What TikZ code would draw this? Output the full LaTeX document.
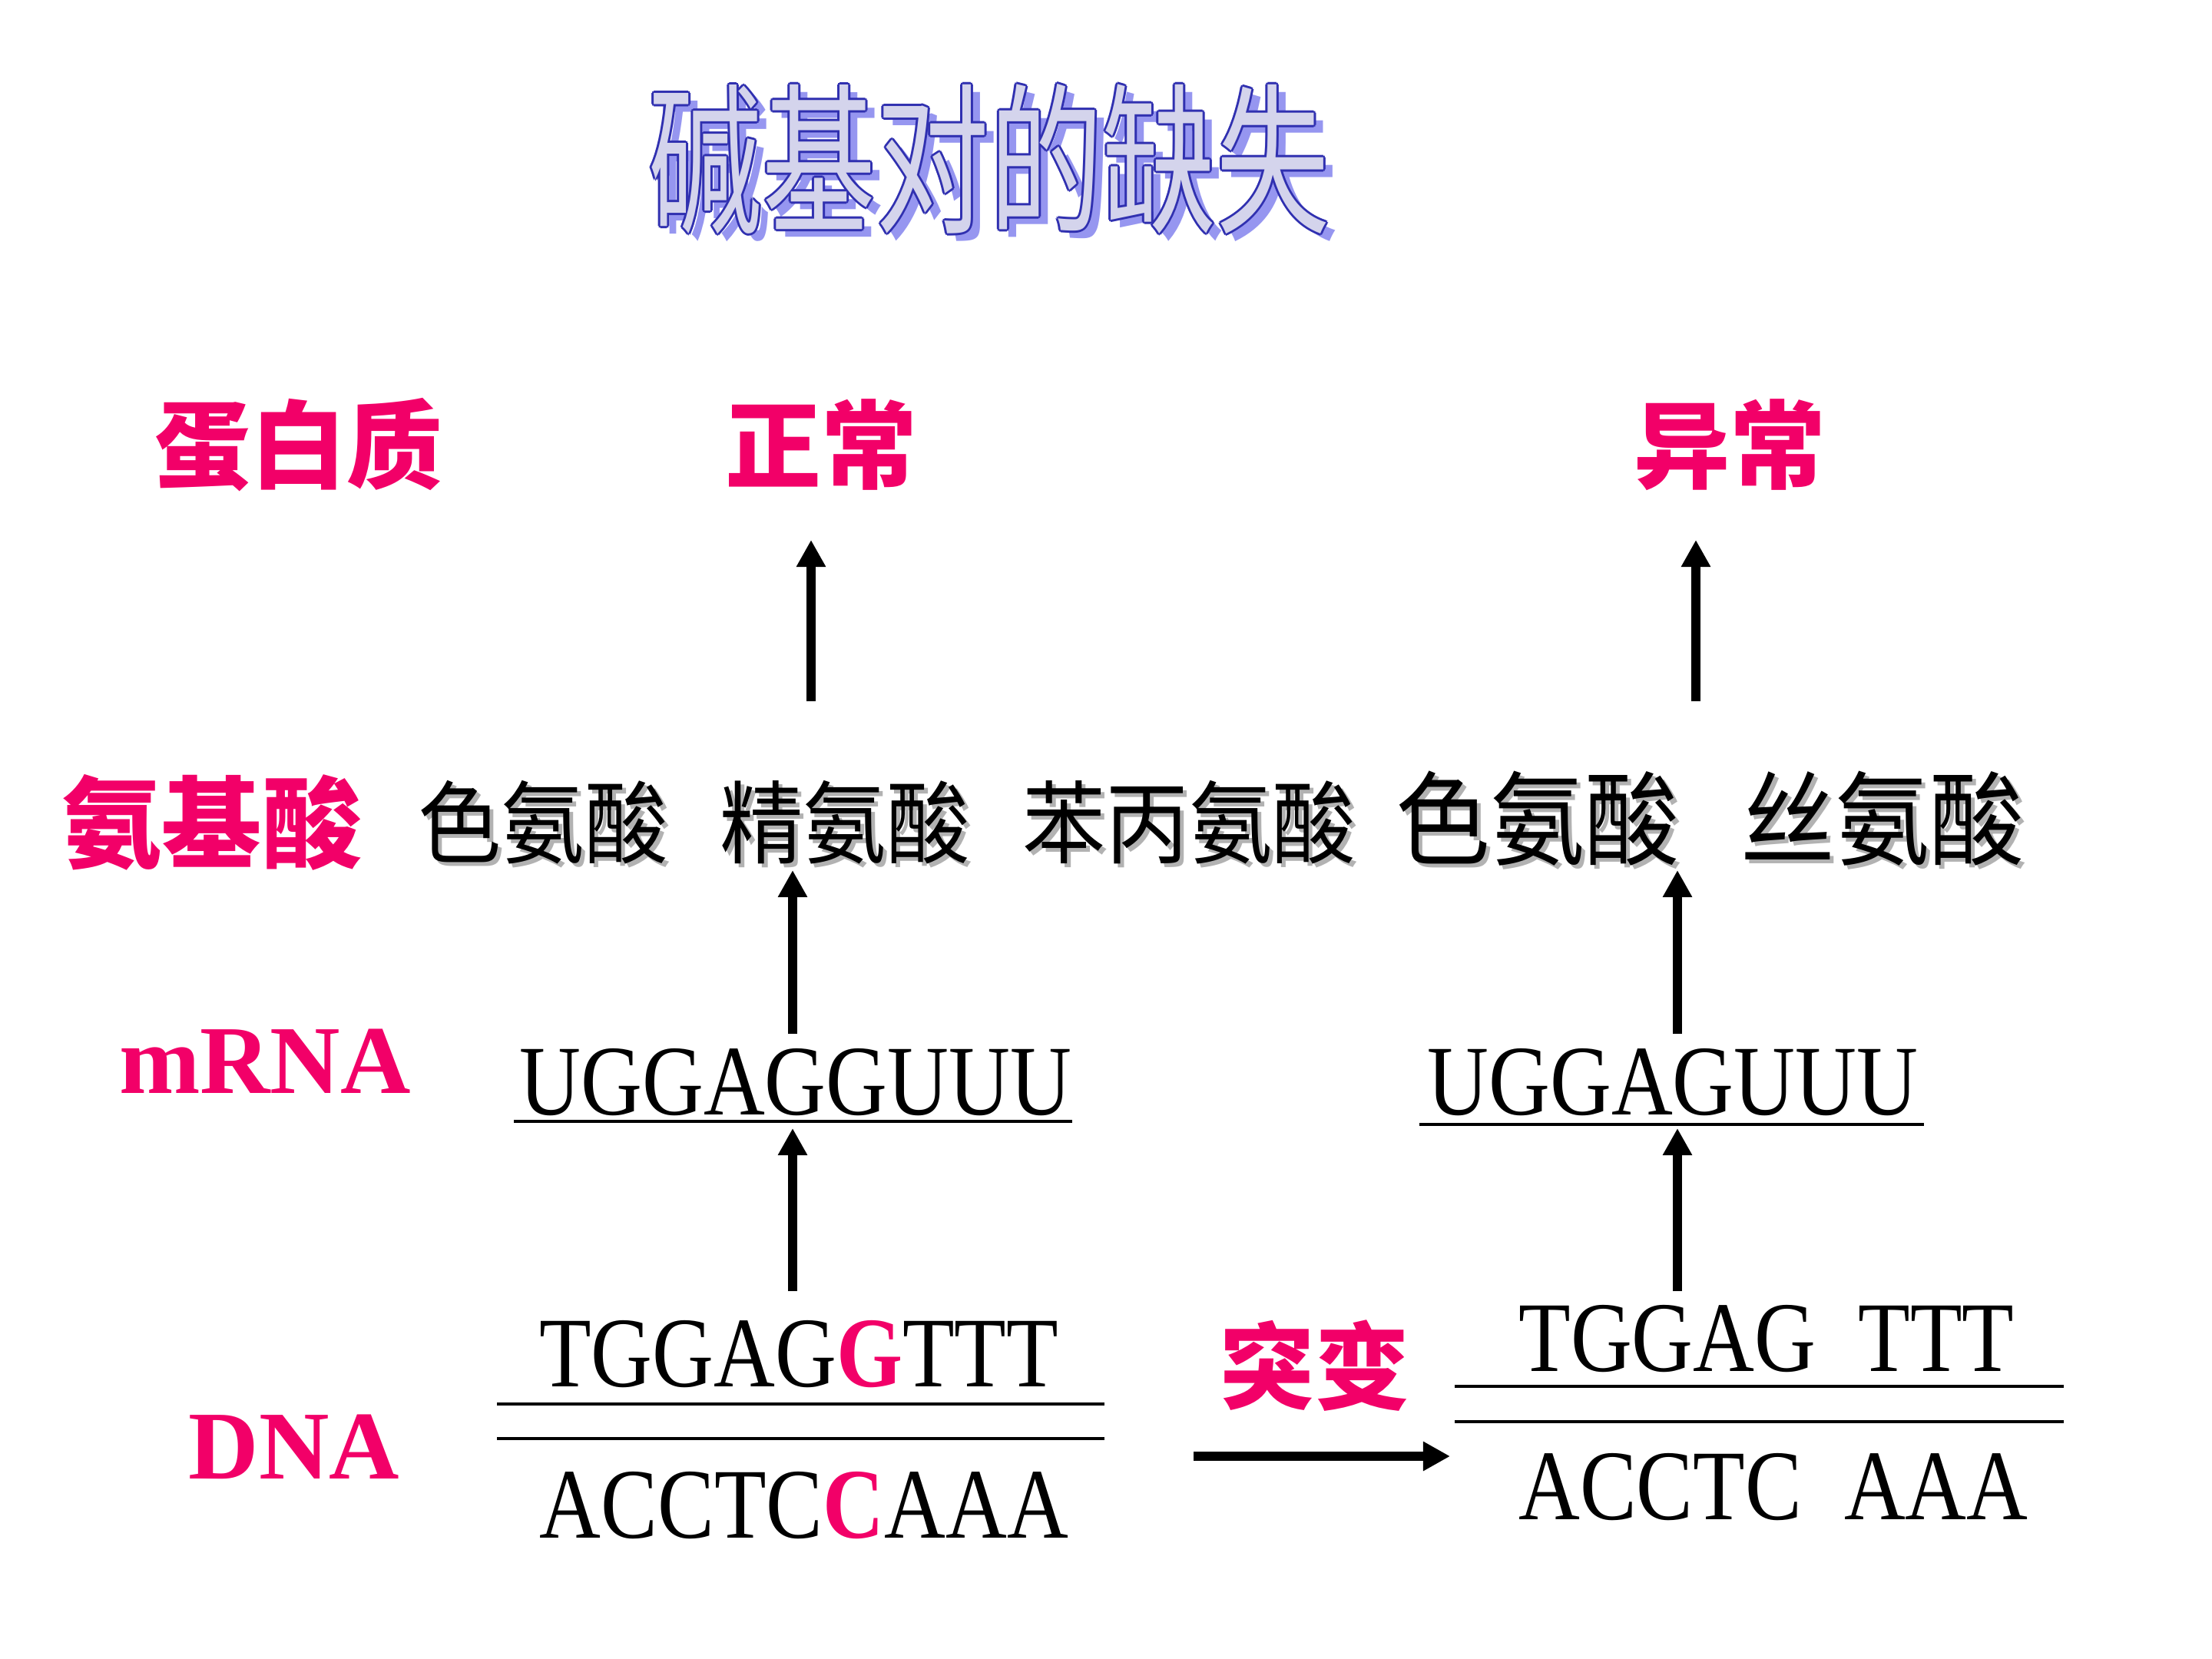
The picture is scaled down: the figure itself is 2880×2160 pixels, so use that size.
\documentclass[tikz,border=0pt]{standalone}
\usepackage{fontspec}
\usetikzlibrary{arrows.meta}
\setmainfont{Liberation Serif}
\newfontfamily\seqfont[FakeStretch=0.85]{Liberation Serif}
\newfontfamily\cjk{Noto Sans CJK SC}
\newfontfamily\aafont[FakeStretch=0.92]{Noto Sans CJK SC}
\newfontfamily\titlefont[FakeStretch=0.7]{Noto Sans CJK SC}
\definecolor{hot}{HTML}{F20068}
\definecolor{titlefill}{HTML}{D4D4EC}
\definecolor{titleline}{HTML}{3030B0}
\definecolor{titleshade}{HTML}{9696F0}

\begin{document}
\begin{tikzpicture}[x=0.01cm, y=-0.01cm,
    ttl/.style={font=\titlefont\fontsize{60}{70}\selectfont},
    lbl/.style={text=hot, font=\cjk\bfseries\fontsize{35.5}{40}\selectfont},
    lat/.style={text=hot, anchor=base, font=\bfseries\fontsize{36}{42}\selectfont},
    aa/.style={font=\aafont\fontsize{33.5}{40}\selectfont},
    bigaa/.style={font=\aafont\fontsize{38}{44}\selectfont},
    seq/.style={anchor=base, font=\seqfont\fontsize{37}{44}\selectfont},
    up/.style={line width=3.2pt, -{Triangle[width=0.36cm, length=0.35cm]}},
    strand/.style={line width=1.1pt}]
  \useasboundingbox (0,0) rectangle (2880,2160);

  % title: shadow, outline, fill
  \node[ttl, text=titleshade] at (1300,217) {碱基对的缺失};
  \foreach \dx/\dy in {-3/0, 3/0, 0/-3, 0/3, -2/-2, 2/-2, -2/2, 2/2}
    \node[ttl, text=titleline] at (1288+\dx,207+\dy) {碱基对的缺失};
  \node[ttl, text=titlefill] (title) at (1288,207) {碱基对的缺失};

  % row labels
  \node[lbl] (prot) at (389,579) {蛋白质};
  \node[lbl] (normal) at (1069,579) {正常};
  \node[lbl] (abnormal) at (2252,579) {异常};
  \node[lbl, font=\cjk\bfseries\fontsize{37}{42}\selectfont] (aalbl) at (276,1071) {氨基酸};
  \node[lat] (mrnalbl) at (345,1423) {mRNA};
  \node[lat] (dnalbl) at (383,1925) {DNA};
  \node[lbl, font=\cjk\bfseries\fontsize{35}{40}\selectfont] (mut) at (1712,1778) {突变};

  % amino acids
  \foreach \x/\t in {707/色氨酸, 1100/精氨酸, 1548/苯丙氨酸}
    \node[aa, text=black!30] at (\x+5,1076) {\t};
  \foreach \x/\t in {2002/色氨酸, 2451/丝氨酸}
    \node[bigaa, text=black!30] at (\x+5,1071) {\t};
  \node[aa] (aa1) at (707,1071) {色氨酸};
  \node[aa] (aa2) at (1100,1071) {精氨酸};
  \node[aa] (aa3) at (1548,1071) {苯丙氨酸};
  \node[bigaa] (aa4) at (2002,1066) {色氨酸};
  \node[bigaa] (aa5) at (2451,1066) {丝氨酸};

  % mRNA
  \node[seq] (mrna1) at (1036,1451) {UGGAGGUUU};
  \node[seq] (mrna2) at (2178,1451) {UGGAGUUU};
  \draw[strand] (669,1460) -- (1396,1460);
  \draw[strand] (1848,1464) -- (2505,1464);

  % DNA
  \node[seq] (dna1t) at (1040,1805) {TGGAG{\bfseries\color{hot}G}TTT};
  \node[seq] (dna1b) at (1047,2002) {ACCTC{\bfseries\color{hot}C}AAA};
  \node[seq] (dna2t) at (2300,1785) {TGGAG\ \ TTT};
  \node[seq] (dna2b) at (2309,1978) {ACCTC\ \ AAA};
  \draw[strand] (647,1828) -- (1438,1828);
  \draw[strand] (647,1873) -- (1438,1873);
  \draw[strand] (1894,1805) -- (2687,1805);
  \draw[strand] (1894,1851) -- (2687,1851);

  % arrows
  \coordinate (p1) at (1056,913);  \coordinate (q1) at (1056,703);
  \coordinate (p2) at (2208,913);  \coordinate (q2) at (2208,703);
  \coordinate (r1) at (1032,1346); \coordinate (s1) at (1032,1133);
  \coordinate (r2) at (2184,1346); \coordinate (s2) at (2184,1133);
  \coordinate (t1) at (1032,1681); \coordinate (u1) at (1032,1469);
  \coordinate (t2) at (2184,1681); \coordinate (u2) at (2184,1469);
  \coordinate (m1) at (1554,1896); \coordinate (m2) at (1888,1896);
  \draw[up] (p1) -- (q1);
  \draw[up] (p2) -- (q2);
  \draw[up] (r1) -- (s1);
  \draw[up] (r2) -- (s2);
  \draw[up] (t1) -- (u1);
  \draw[up] (t2) -- (u2);
  \draw[up] (m1) -- (m2);
\end{tikzpicture}
\end{document}
